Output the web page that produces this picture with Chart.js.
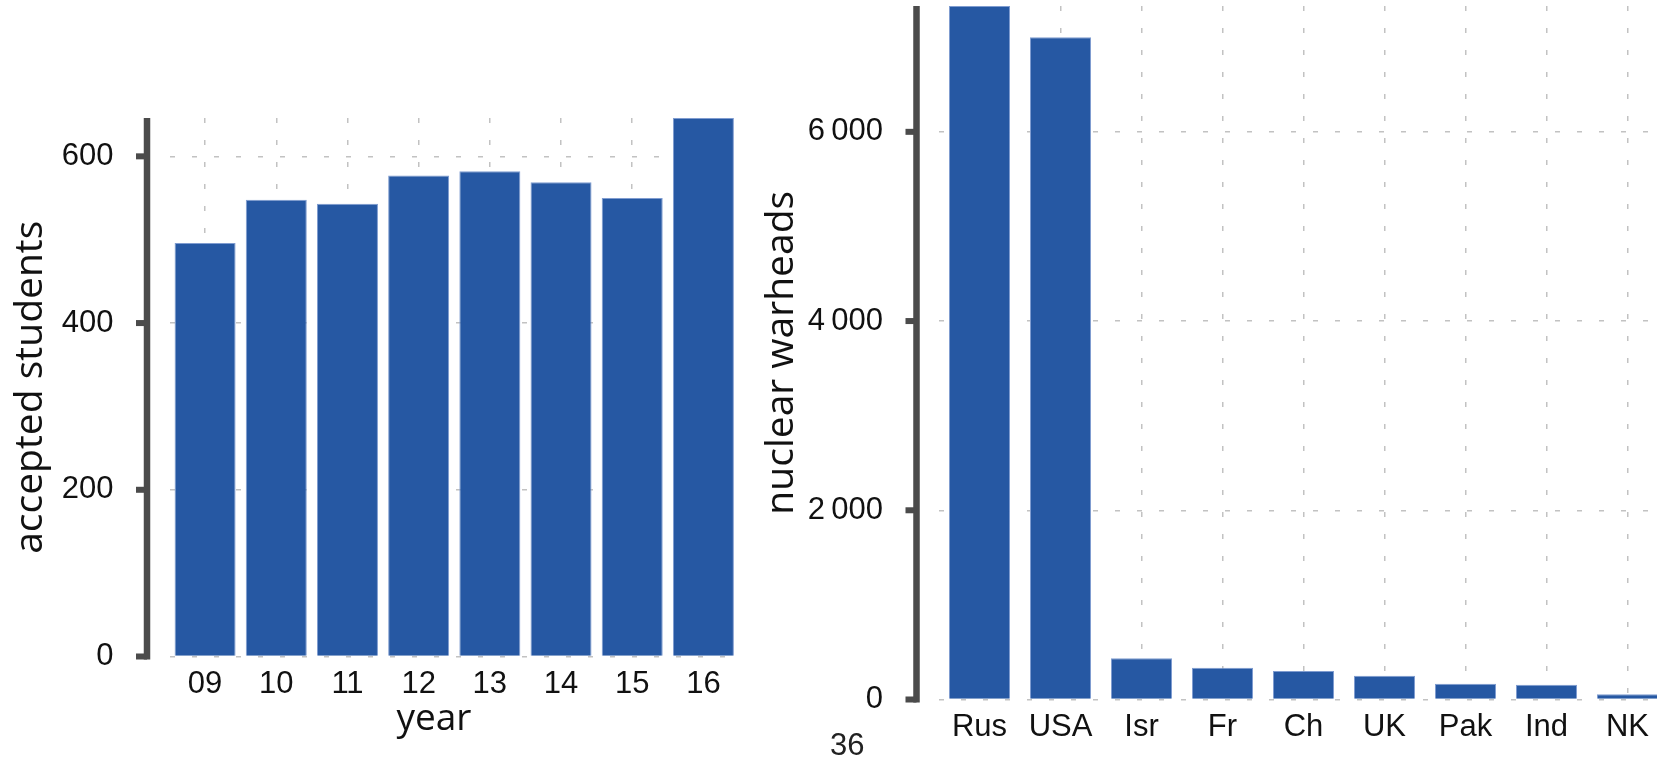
<!DOCTYPE html>
<html>
<head>
<meta charset="utf-8">
<script src="https://cdn.jsdelivr.net/npm/chart.js@4.4.0/dist/chart.umd.min.js"></script>
<style>
  html, body { margin: 0; padding: 0; width: 1657px; height: 759px; overflow: hidden; background: #fff; }
  canvas { position: absolute; top: 0; }
  #left { left: 0; }
  #right { left: 750px; }
  .label { position: absolute; color: #111; white-space: nowrap; }
  #xTitle { left: 334px; top: 697px; width: 200px; text-align: center; font: 37px/37px "Open Sans"; }
  #page { left: 830px; top: 729px; font: 31px/31px "Liberation Sans"; color: #222; }
</style>
</head>
<body>
<canvas id="left" width="760" height="759"></canvas>
<canvas id="right" width="950" height="759"></canvas>
<div class="label" id="xTitle">year</div>
<div class="label" id="page">36</div>
<script>
// accepted students per year
const years = ['09', '10', '11', '12', '13', '14', '15', '16'];
const students = [496, 548, 543, 577, 582, 569, 550, 646];
const studentTicks = [0, 200, 400, 600];

// nuclear warheads per country
const countries = ['Rus', 'USA', 'Isr', 'Fr', 'Ch', 'UK', 'Pak', 'Ind', 'NK'];
const warheads = [7330, 7000, 435, 335, 300, 252, 166, 155, 55];
const warheadTicks = [0, 2000, 4000, 6000];
const warheadTickLabels = ['0', '2\u2009000', '4\u2009000', '6\u2009000'];

const BAR = '#2658a3';
const GRID = '#c2c2c2';
const TICK_FONT = { family: 'Liberation Sans', size: 31 };
const TITLE_FONT = { family: 'Open Sans', size: 39 };

// thick dark axis line drawn a bit left of the plot area, like the slide
const spine = {
  id: 'spine',
  afterDatasetsDraw(chart) {
    const { ctx, chartArea, scales: { y } } = chart;
    const x = chartArea.left - 22.5;
    const top = y.getPixelForValue(y.max);
    const zero = y.getPixelForValue(0);
    ctx.save();
    ctx.fillStyle = '#4b4b4b';
    ctx.fillRect(x - 3.25, top, 6.5, zero + 3 - top);
    y.ticks.forEach(t => {
      const py = y.getPixelForValue(t.value);
      ctx.fillRect(x - 11, py - 3, 11, 6);
    });
    ctx.restore();
  }
};

function makeChart(id, labels, values, ticks, tickLabels, cfg) {
  return new Chart(document.getElementById(id), {
    type: 'bar',
    data: {
      labels: labels,
      datasets: [{
        data: values,
        backgroundColor: BAR,
        borderColor: '#7f9cd0',
        borderWidth: 1,
        barPercentage: cfg.barPct,
        categoryPercentage: 1
      }]
    },
    options: {
      responsive: false,
      animation: false,
      layout: { padding: cfg.padding },
      plugins: { legend: { display: false }, tooltip: { enabled: false } },
      scales: {
        x: {
          offset: true,
          grid: { offset: false, color: GRID, lineWidth: 1.5, drawTicks: false },
          border: { display: false, dash: [5, 17] },
          ticks: { color: '#111', font: TICK_FONT, padding: 9, maxRotation: 0, autoSkip: false },
          afterFit(s) { s.height = cfg.xHeight; s.paddingLeft = 0; s.paddingRight = 0; }
        },
        y: {
          min: 0,
          max: Math.max(...values),
          grid: { color: GRID, lineWidth: 1.5, drawTicks: false },
          border: { display: false, dash: [5, 17] },
          ticks: {
            color: '#111', font: TICK_FONT, padding: 56,
            callback: (v) => tickLabels[ticks.indexOf(v)]
          },
          afterBuildTicks(s) { s.ticks = ticks.map(v => ({ value: v })); },
          title: { display: true, text: cfg.yTitle, color: '#111', font: TITLE_FONT, padding: { top: cfg.titlePad } },
          afterFit(s) { s.width = cfg.yWidth; s.paddingTop = 0; s.paddingBottom = 0; }
        }
      }
    },
    plugins: [spine]
  });
}

makeChart('left', years, students, studentTicks, studentTicks.map(String), {
  barPct: 0.857,
  padding: { left: 0, right: 21, top: 118, bottom: 0 },
  xHeight: 102.5,
  yWidth: 169.5,
  yTitle: 'accepted students',
  titlePad: 7.5
});

makeChart('right', countries, warheads, warheadTicks, warheadTickLabels, {
  barPct: 0.753,
  padding: { left: 0, right: 32, top: 6, bottom: 0 },
  xHeight: 59.5,
  yWidth: 189,
  yTitle: 'nuclear warheads',
  titlePad: 8.5
});
</script>
</body>
</html>
